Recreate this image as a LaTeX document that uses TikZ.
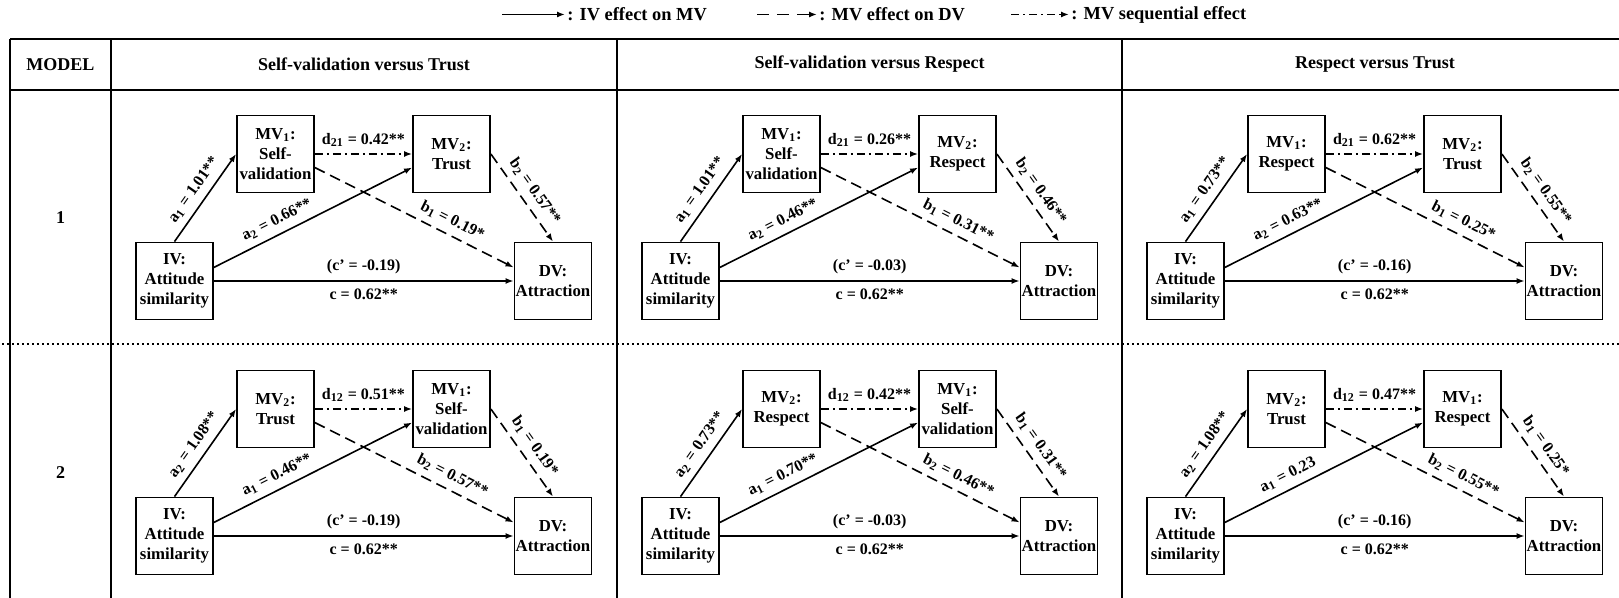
\documentclass[tikz,border=0pt]{standalone}
\usepackage{fontspec}
\setmainfont{Liberation Serif}
\usetikzlibrary{arrows.meta}
\newcommand\setvals[4]{\def\vd{#1}\def\vbl{#2}\def\vbr{#3}\def\vcp{#4}}
% #1 prefix, #2 x, #3 y, #4 left sub, #5 left name, #6 right sub, #7 right name, #8 a left, #9 a right
\newcommand\mpanel[9]{%
\begin{scope}[shift={(#2,#3)}]
\node[box] (#1iv) at (63.5,191) {IV:\\Attitude\\similarity};
\node[box] (#1ml) at (164.5,64) {MV\textsubscript{#4}:\\#5};
\node[box] (#1mr) at (340.5,64) {MV\textsubscript{#6}:\\#7};
\node[box] (#1dv) at (442,191) {DV:\\Attraction};
\draw[arr] (#1iv.north) -- node[lbl] {a\textsubscript{#4} = #8} (#1ml.west);
\draw[arr] (#1iv.19) -- node[lbl,pos=0.35] {a\textsubscript{#6} = #9} (#1mr.199);
\draw[arr] (#1iv.east) -- node[above] {(c’ = \vcp)} node[below] {c = 0.62**} (#1dv.west);
\draw[dsd] (#1ml.east) -- node[above] {d\textsubscript{#6#4} = \vd} (#1mr.west);
\draw[dsh] (#1ml.-19) -- node[lbl,pos=0.66] {b\textsubscript{#4} = \vbl} (#1dv.161);
\draw[dsh] (#1mr.east) -- node[lbl,pos=0.52] {b\textsubscript{#6} = \vbr} (#1dv.north);
\end{scope}}
\begin{document}
\begin{tikzpicture}[x=0.5pt,y=-0.5pt,
  every node/.style={font=\fontsize{8}{10}\selectfont\bfseries},
  box/.style={draw,line width=0.9pt,minimum width=38.5pt,minimum height=38.5pt,inner sep=0pt,align=center,font=\fontsize{8.4}{10}\selectfont\bfseries},
  arr/.style={line width=0.8pt,-{Latex[length=4pt,width=3pt]}},
  dsh/.style={arr,dash pattern=on 5.5pt off 3pt},
  dsd/.style={arr,dash pattern=on 4pt off 2pt on 1pt off 2pt},
  gridline/.style={line width=1.4pt},
  head/.style={font=\fontsize{9}{11}\selectfont\bfseries},
  leg/.style={anchor=west,inner sep=1pt,font=\fontsize{9.2}{11}\selectfont\bfseries},
  lbl/.style={sloped,above}
]
\useasboundingbox (0,0) rectangle (1619,598);
% legend
\coordinate (ls1) at (502,14.5);
\node[leg] (lt1) at (565,14.5) {: IV effect on MV};
\draw[arr] (ls1) -- (lt1.west);
\coordinate (ls2) at (757,14.5);
\node[leg] (lt2) at (817,14.5) {: MV effect on DV};
\draw[arr,dash pattern=on 6pt off 4pt] (ls2) -- (lt2.west);
\coordinate (ls3) at (1011,14.5);
\node[leg] (lt3) at (1069,14.5) {: MV sequential effect};
\draw[dsd] (ls3) -- (lt3.west);
% table
\draw[gridline] (10,39) -- (1619,39);
\draw[gridline] (10,90) -- (1619,90);
\draw[gridline] (10,39) -- (10,598);
\draw[gridline] (111,39) -- (111,598);
\draw[gridline] (617,39) -- (617,598);
\draw[gridline] (1122,39) -- (1122,598);
\draw[line width=0.8pt,dash pattern=on 0.8pt off 1.7pt] (2,344) -- (1619,344);
\node[head] (hm) at (60.5,64.5) {MODEL};
\node[head] (h1) at (364,64.5) {Self-validation versus Trust};
\node[head] (h2) at (869.5,64.5) {Self-validation versus Respect};
\node[head] (h3) at (1375,64.5) {Respect versus Trust};
\node[head] (r1) at (60.5,218) {1};
\node[head] (r2) at (60.5,473) {2};
% panels
\setvals{0.42**}{0.19*}{0.57**}{-0.19}
\mpanel{pa}{111}{90}{1}{Self-\\validation}{2}{Trust}{1.01**}{0.66**}
\setvals{0.51**}{0.57**}{0.19*}{-0.19}
\mpanel{pb}{111}{345}{2}{Trust}{1}{Self-\\validation}{1.08**}{0.46**}
\setvals{0.26**}{0.31**}{0.46**}{-0.03}
\mpanel{pc}{617}{90}{1}{Self-\\validation}{2}{Respect}{1.01**}{0.46**}
\setvals{0.42**}{0.46**}{0.31**}{-0.03}
\mpanel{pd}{617}{345}{2}{Respect}{1}{Self-\\validation}{0.73**}{0.70**}
\setvals{0.62**}{0.25*}{0.55**}{-0.16}
\mpanel{pe}{1122}{90}{1}{Respect}{2}{Trust}{0.73**}{0.63**}
\setvals{0.47**}{0.55**}{0.25*}{-0.16}
\mpanel{pf}{1122}{345}{2}{Trust}{1}{Respect}{1.08**}{0.23}
\end{tikzpicture}
\end{document}
